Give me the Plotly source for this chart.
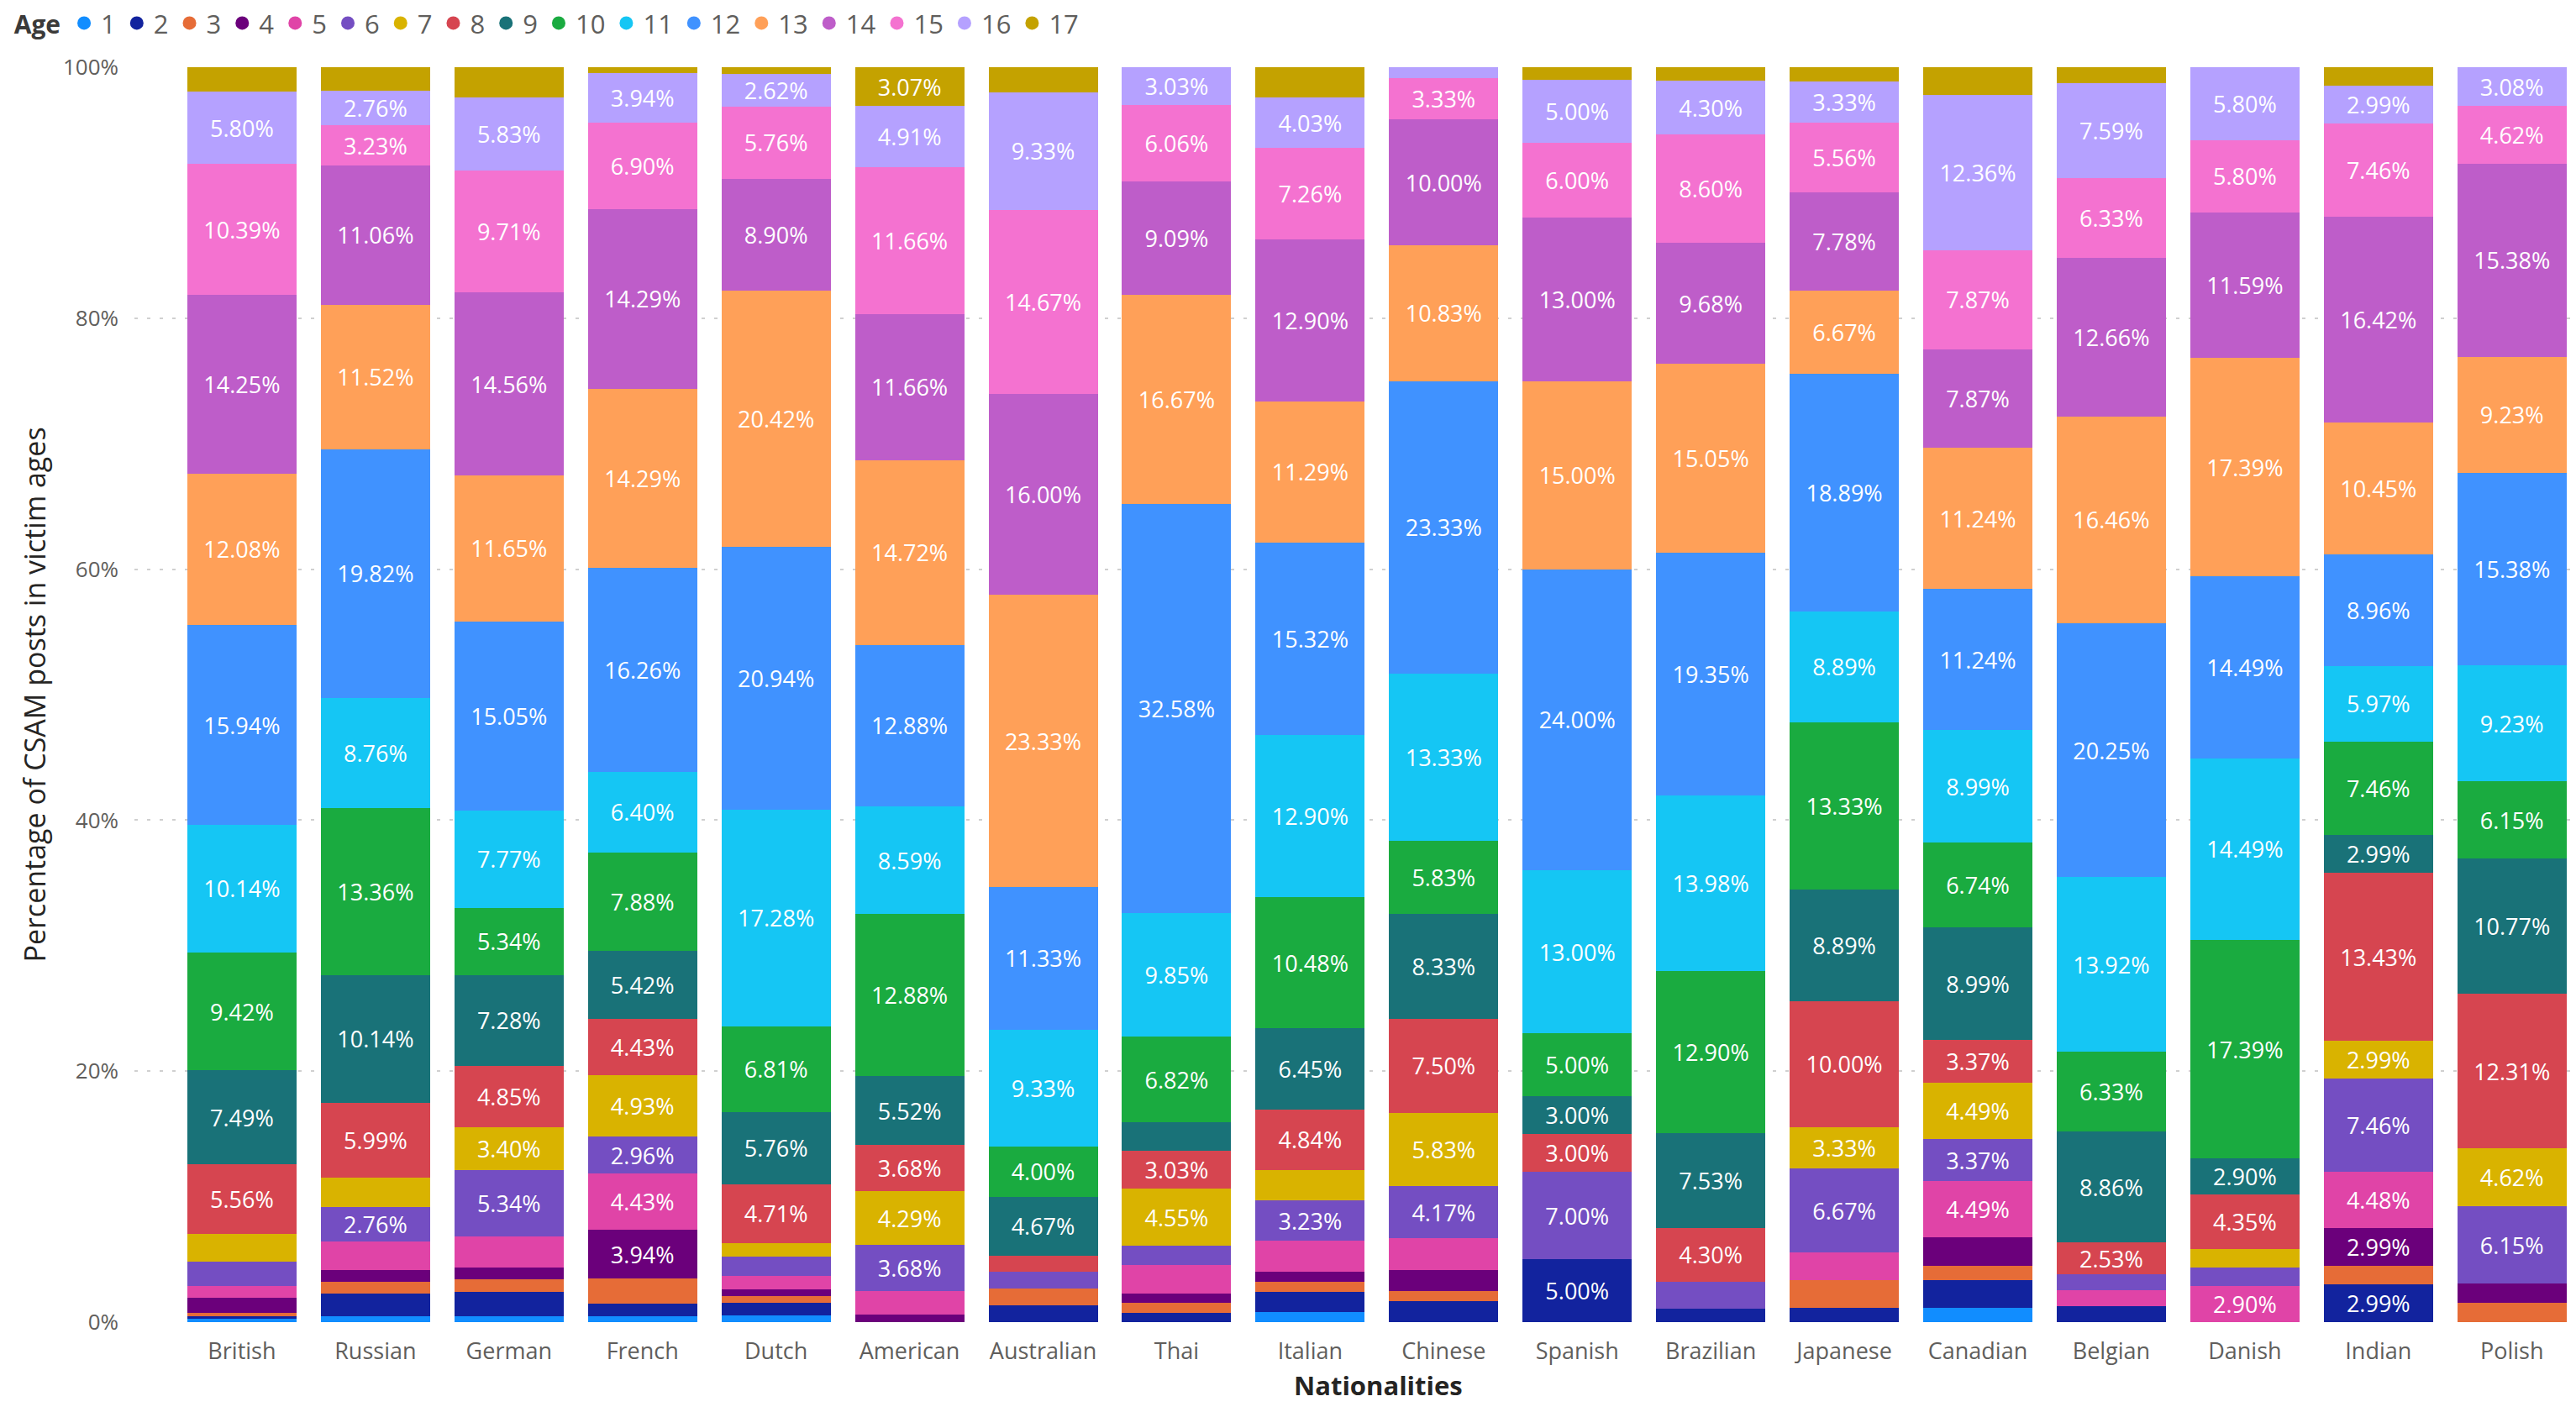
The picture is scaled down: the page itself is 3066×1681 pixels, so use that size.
import plotly.graph_objects as go

nationalities = ["British", "Russian", "German", "French", "Dutch", "American", "Australian",
                 "Thai", "Italian", "Chinese", "Spanish", "Brazilian", "Japanese", "Canadian",
                 "Belgian", "Danish", "Indian", "Polish"]

age_labels = ["1", "2", "3", "4", "5", "6", "7", "8", "9", "10", "11", "12", "13", "14", "15", "16", "17"]

# Percentage of CSAM posts per victim age, for each nationality (same order as above)
age_1 = [0.24, 0.46, 0.49, 0.49, 0.52, 0, 0, 0, 0.81, 0, 0, 0, 0, 1.12, 0, 0, 0, 0]
age_2 = [0.24, 1.84, 1.94, 0.99, 1.05, 0, 1.33, 0.76, 1.61, 1.67, 5.00, 1.08, 1.11, 2.25, 1.27, 0, 2.99, 0]
age_3 = [0.24, 0.92, 0.97, 1.97, 0.52, 0, 1.33, 0.76, 0.81, 0.83, 0, 0, 2.22, 1.12, 0, 0, 1.49, 1.54]
age_4 = [1.21, 0.92, 0.97, 3.94, 0.52, 0.61, 0, 0.76, 0.81, 1.67, 0, 0, 0, 2.25, 0, 0, 2.99, 1.54]
age_5 = [0.97, 2.30, 2.43, 4.43, 1.05, 1.84, 0, 2.27, 2.42, 2.50, 0, 0, 2.22, 4.49, 1.27, 2.90, 4.48, 0]
age_6 = [1.93, 2.76, 5.34, 2.96, 1.57, 3.68, 1.33, 1.52, 3.23, 4.17, 7.00, 2.15, 6.67, 3.37, 1.27, 1.45, 7.46, 6.15]
age_7 = [2.17, 2.30, 3.40, 4.93, 1.05, 4.29, 0, 4.55, 2.42, 5.83, 0, 0, 3.33, 4.49, 0, 1.45, 2.99, 4.62]
age_8 = [5.56, 5.99, 4.85, 4.43, 4.71, 3.68, 1.33, 3.03, 4.84, 7.50, 3.00, 4.30, 10.00, 3.37, 2.53, 4.35, 13.43, 12.31]
age_9 = [7.49, 10.14, 7.28, 5.42, 5.76, 5.52, 4.67, 2.27, 6.45, 8.33, 3.00, 7.53, 8.89, 8.99, 8.86, 2.90, 2.99, 10.77]
age_10 = [9.42, 13.36, 5.34, 7.88, 6.81, 12.88, 4.00, 6.82, 10.48, 5.83, 5.00, 12.90, 13.33, 6.74, 6.33, 17.39, 7.46, 6.15]
age_11 = [10.14, 8.76, 7.77, 6.40, 17.28, 8.59, 9.33, 9.85, 12.90, 13.33, 13.00, 13.98, 8.89, 8.99, 13.92, 14.49, 5.97, 9.23]
age_12 = [15.94, 19.82, 15.05, 16.26, 20.94, 12.88, 11.33, 32.58, 15.32, 23.33, 24.00, 19.35, 18.89, 11.24, 20.25, 14.49, 8.96, 15.38]
age_13 = [12.08, 11.52, 11.65, 14.29, 20.42, 14.72, 23.33, 16.67, 11.29, 10.83, 15.00, 15.05, 6.67, 11.24, 16.46, 17.39, 10.45, 9.23]
age_14 = [14.25, 11.06, 14.56, 14.29, 8.90, 11.66, 16.00, 9.09, 12.90, 10.00, 13.00, 9.68, 7.78, 7.87, 12.66, 11.59, 16.42, 15.38]
age_15 = [10.39, 3.23, 9.71, 6.90, 5.76, 11.66, 14.67, 6.06, 7.26, 3.33, 6.00, 8.60, 5.56, 7.87, 6.33, 5.80, 7.46, 4.62]
age_16 = [5.80, 2.76, 5.83, 3.94, 2.62, 4.91, 9.33, 3.03, 4.03, 0.83, 5.00, 4.30, 3.33, 12.36, 7.59, 5.80, 2.99, 3.08]
age_17 = [1.93, 1.84, 2.43, 0.49, 0.52, 3.07, 2.00, 0, 2.42, 0, 1.00, 1.08, 1.11, 2.25, 1.27, 0, 1.49, 0]

y_tick_values = [0, 20, 40, 60, 80, 100]
y_tick_labels = ["0%", "20%", "40%", "60%", "80%", "100%"]

series = [age_1, age_2, age_3, age_4, age_5, age_6, age_7, age_8, age_9, age_10,
          age_11, age_12, age_13, age_14, age_15, age_16, age_17]

colors = ["#118DFF", "#12239E", "#E66C37", "#6B007B", "#E044A7", "#744EC2", "#D9B300",
          "#D64550", "#197278", "#1AAB40", "#15C6F4", "#4092FF", "#FFA058", "#BE5DC9",
          "#F472D0", "#B5A1FF", "#C4A200"]

FONT = "Open Sans"
LABEL_MIN = 2.52

fig = go.Figure()

for lab, vals, col in zip(age_labels, series, colors):
    texts = [f"{v:.2f}%" if v >= LABEL_MIN else "" for v in vals]
    fig.add_trace(go.Bar(
        x=nationalities, y=vals, name=lab, legendgroup=lab, showlegend=False,
        marker=dict(color=col, line=dict(width=0)),
        text=texts, textposition="inside", insidetextanchor="middle", textangle=0,
        textfont=dict(color="white", size=27, family=FONT),
        hovertemplate="%{x}<br>Age " + lab + ": %{y:.2f}%<extra></extra>",
    ))

for lab, col in zip(age_labels, colors):
    fig.add_trace(go.Scatter(
        x=[None], y=[None], mode="markers", name=lab, legendgroup=lab, showlegend=True,
        marker=dict(color=col, size=22, symbol="circle"),
    ))

fig.update_layout(
    width=3066, height=1681,
    margin=dict(l=160, r=0, t=80, b=107),
    barmode="stack",
    bargap=0.182,
    plot_bgcolor="white",
    paper_bgcolor="white",
    font=dict(family=FONT, color="#605E5C"),
    uniformtext=dict(minsize=27, mode="show"),
    legend=dict(
        orientation="h", x=-0.05, xanchor="left", y=1.053, yanchor="top",
        font=dict(size=31, color="#605E5C", family=FONT),
        title=dict(text="<b>Age</b>", font=dict(size=30, color="#3B3A39", family=FONT), side="left"),
        itemwidth=30, tracegroupgap=0, bgcolor="rgba(0,0,0,0)",
    ),
    xaxis=dict(
        type="category", range=[-0.805, 17.48],
        showgrid=False, showline=False, zeroline=False, ticks="",
        tickfont=dict(size=27, color="#605E5C", family=FONT),
        ticklabelstandoff=16,
    ),
    yaxis=dict(
        range=[0, 100], tickvals=y_tick_values, ticktext=y_tick_labels,
        showgrid=True, gridcolor="#D0D0D0", gridwidth=2, griddash="4px,11px",
        zeroline=False, showline=False, ticks="",
        tickfont=dict(size=26, color="#605E5C", family=FONT),
        ticklabelstandoff=18,
        title=dict(text="Percentage of CSAM posts in victim ages",
                   font=dict(size=34, color="#252423", family=FONT), standoff=10),
    ),
    annotations=[dict(
        text="<b>Nationalities</b>", xref="paper", yref="paper",
        x=0.5093, y=-0.0502, xanchor="center", yanchor="middle", showarrow=False,
        font=dict(size=31, color="#252423", family=FONT),
    )],
)

fig.write_html("out.html", config={"displayModeBar": False},
               post_script="document.body.style.margin='0';")
